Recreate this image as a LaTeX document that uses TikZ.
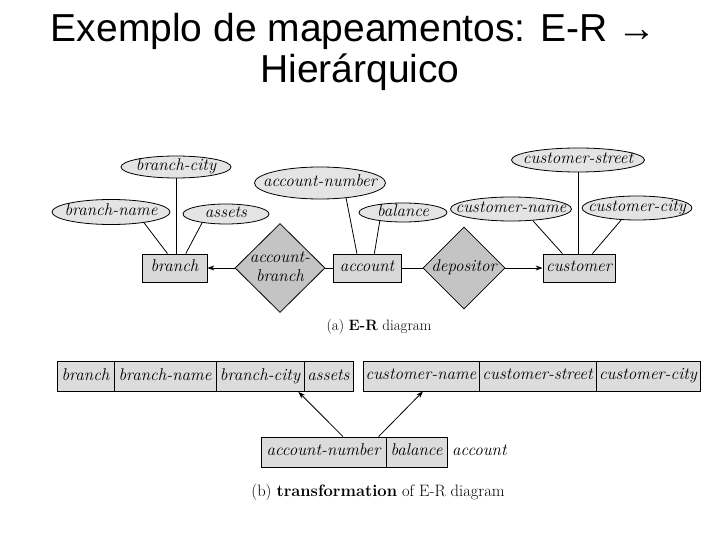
\documentclass[tikz,border=0pt]{standalone}
\usepackage{fontspec}
\usetikzlibrary{shapes.geometric,arrows.meta,calc}
\newfontfamily\titlefont{Liberation Sans}
\newcommand\erlab{\fontsize{17}{18}\selectfont\itshape}
\newcommand\zw[1]{\makebox[0pt]{#1}}
\definecolor{attrgray}{HTML}{E4E4E4}
\definecolor{entgray}{HTML}{D8D8D8}
\definecolor{relgray}{HTML}{C4C4C4}
\definecolor{cellgray}{HTML}{DCDCDC}
\begin{document}
\begin{tikzpicture}[x=1pt,y=-1pt,
  lab/.style={font=\erlab,text height=10pt,text depth=3pt},
  attr/.style={ellipse,draw,line width=0.8pt,fill=attrgray,inner sep=0pt,lab},
  ent/.style={rectangle,draw,line width=0.8pt,fill=entgray,inner sep=0pt,minimum height=28pt,lab},
  rel/.style={diamond,draw,line width=0.8pt,fill=relgray,inner sep=0pt,font=\erlab},
  cell/.style={rectangle,draw,line width=0.8pt,fill=cellgray,inner sep=0pt,minimum height=30pt,lab},
  conn/.style={line width=0.8pt},
  arr/.style={conn,-{Stealth[length=7pt,width=5pt]}},
  captext/.style={font=\fontsize{15}{17}\selectfont}
]
\useasboundingbox (0,0) rectangle (720,540);
% title
\node[font=\titlefont\fontsize{39}{44}\selectfont,anchor=base,inner sep=0pt] (t1) at (354,42) {Exemplo de mapeamentos: E-R →};
\node[font=\titlefont\fontsize{39}{44}\selectfont,anchor=base,inner sep=0pt] (t2) at (360,83) {Hierárquico};
% E-R diagram
\node[attr,minimum width=110pt,minimum height=22pt] (bcity) at (176,167) {\zw{branch-city}};
\node[attr,minimum width=118pt,minimum height=25pt] (bname) at (111,212) {\zw{branch-name}};
\node[attr,minimum width=86pt,minimum height=20pt] (assets) at (226,214) {\zw{assets}};
\node[ent,minimum width=65pt] (branch) at (174.5,268) {\zw{branch}};
\node[rel,minimum width=90pt,minimum height=89pt] (ab) at (280,268) {\zw{\begin{tabular}{@{}c@{}}account-\\[1pt]branch\end{tabular}}};
\node[attr,minimum width=131pt,minimum height=32pt] (anum) at (320,183) {\zw{account-number}};
\node[attr,minimum width=88pt,minimum height=19pt] (bal) at (403,212.5) {\zw{balance}};
\node[ent,minimum width=68pt] (account) at (367,268) {\zw{account}};
\node[rel,minimum width=82pt,minimum height=82pt,lab] (dep) at (464,268) {\zw{depositor}};
\node[ent,minimum width=72pt] (customer) at (579,268) {\zw{customer}};
\node[attr,minimum width=133pt,minimum height=24pt] (cstreet) at (578,160) {\zw{customer-street}};
\node[attr,minimum width=121pt,minimum height=24pt] (cname) at (511,209) {\zw{customer-name}};
\node[attr,minimum width=110pt,minimum height=24pt] (ccity) at (637,208) {\zw{customer-city}};
% connectors
\draw[conn] (bcity.south) -- (bcity.south |- branch.north);
\draw[conn] (bname.-18) -- (branch.116);
\draw[conn] (assets.200) -- (branch.52);
\draw[arr] (ab.west) -- (ab.west -| branch.east);
\draw[conn] (ab.east) -- (ab.east -| account.west);
\draw[conn] (anum.-30) -- (account.125);
\draw[conn] (bal.200) -- (account.63);
\draw[conn] (account.east) -- (account.east -| dep.west);
\draw[arr] (dep.east) -- (dep.east -| customer.west);
\draw[conn] (cstreet.south) -- (cstreet.south |- customer.north);
\draw[conn] (cname.-28) -- (customer.139);
\draw[conn] (ccity.217) -- (customer.47);
\node[captext,anchor=base] (capa) at (379,330) {(a) \textbf{E-R} diagram};
% tables
\node[cell,minimum width=57pt] (ta) at (85.5,376.5) {\zw{branch}};
\node[cell,minimum width=102pt] (tb) at (165,376.5) {\zw{branch-name}};
\node[cell,minimum width=88pt] (tc) at (260,376.5) {\zw{branch-city}};
\node[cell,minimum width=49pt] (td) at (328.5,376.5) {\zw{assets}};
\node[cell,minimum width=116pt] (ua) at (421,376) {\zw{customer-name}};
\node[cell,minimum width=117pt] (ub) at (537.5,376) {\zw{customer-street}};
\node[cell,minimum width=104pt] (uc) at (648,376) {\zw{customer-city}};
\node[cell,minimum width=125pt] (va) at (323.5,452) {\zw{account-number}};
\node[cell,minimum width=61pt] (vb) at (416.5,452) {\zw{balance}};
\node[lab,anchor=west,inner sep=0pt] (vl) at (452,452) {account};
\coordinate (s1) at ($(va.north)+(19.5,0)$);
\coordinate (e1) at ($(tc.south east)+(-6,0)$);
\coordinate (s2) at ($(vb.north west)+(-7,0)$);
\coordinate (e2) at ($(ua.south)+(2,0)$);
\draw[arr] (s1) -- (e1);
\draw[arr] (s2) -- (e2);
\node[font=\fontsize{16.5}{18}\selectfont,anchor=base] (capb) at (378,496) {(b) \textbf{transformation} of E-R diagram};
\end{tikzpicture}
\end{document}
